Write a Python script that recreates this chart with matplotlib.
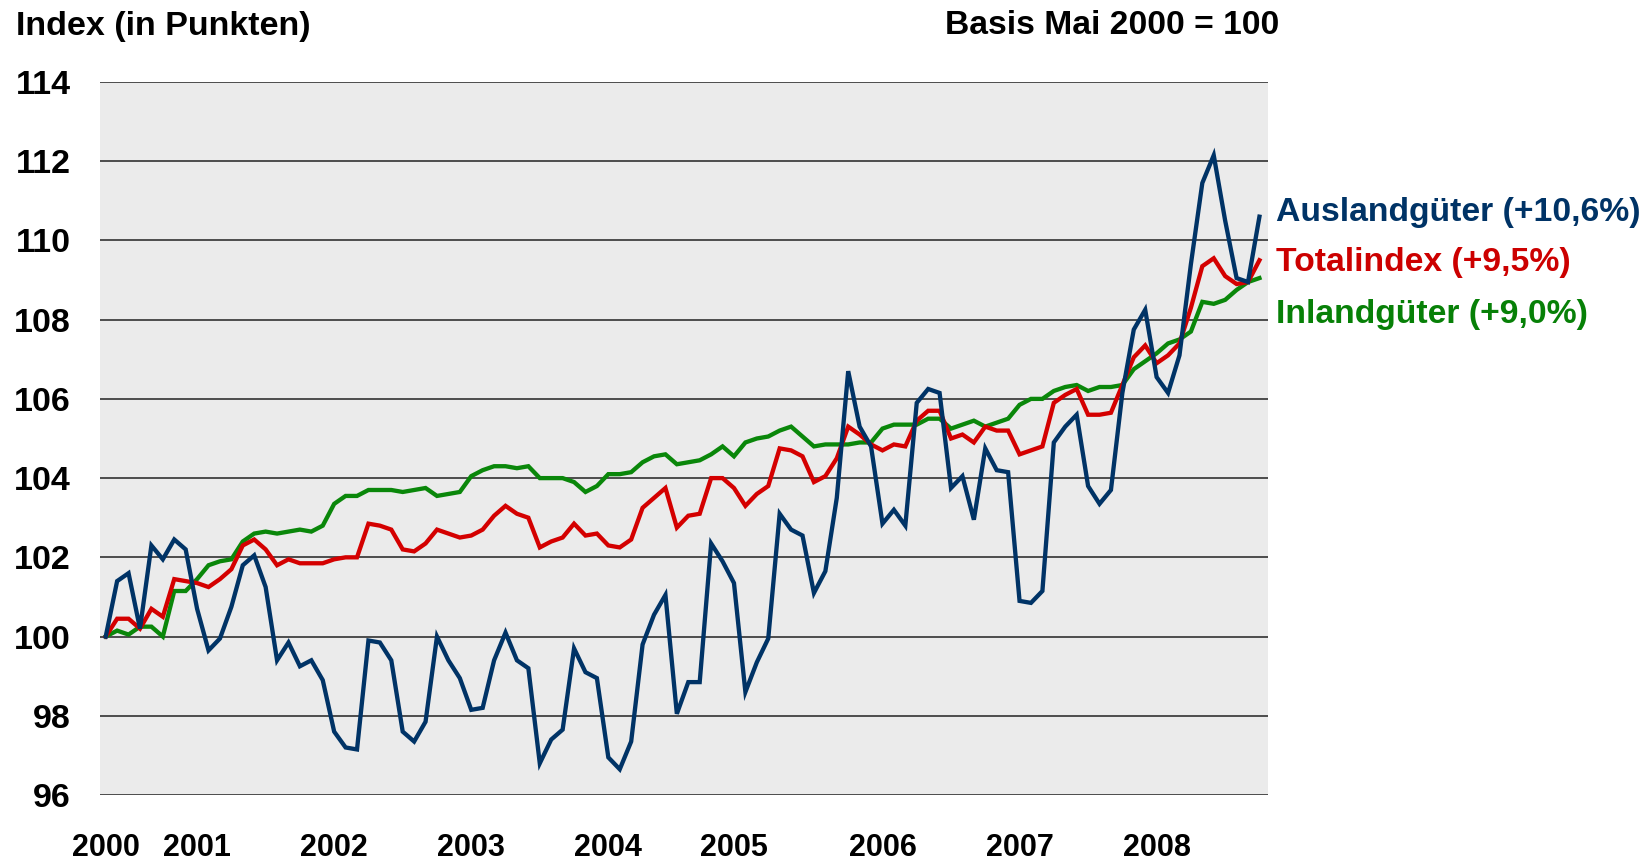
import numpy as np
import matplotlib
matplotlib.use("Agg")
import matplotlib.pyplot as plt

plt.rcParams['font.family'] = ['Liberation Sans', 'DejaVu Sans']
plt.rcParams['font.weight'] = 'bold'

# Monthly index values, May 2000 = 100, through Oct 2008
ausland = [100.0, 101.4, 101.6, 100.2, 102.3, 101.95, 102.45, 102.2, 100.7, 99.65,
           99.95, 100.75, 101.8, 102.05, 101.25, 99.4, 99.85, 99.25, 99.4, 98.9,
           97.6, 97.2, 97.15, 99.9, 99.85, 99.4, 97.6, 97.35, 97.85, 100.0,
           99.4, 98.95, 98.15, 98.2, 99.4, 100.1, 99.4, 99.2, 96.8, 97.4,
           97.65, 99.7, 99.1, 98.95, 96.95, 96.65, 97.35, 99.8, 100.55, 101.05,
           98.05, 98.85, 98.85, 102.35, 101.9, 101.35, 98.6, 99.35, 99.95, 103.1,
           102.7, 102.55, 101.1, 101.65, 103.5, 106.7, 105.3, 104.8, 102.85, 103.2,
           102.8, 105.9, 106.25, 106.15, 103.75, 104.05, 102.95, 104.75, 104.2, 104.15,
           100.9, 100.85, 101.15, 104.9, 105.3, 105.6, 103.8, 103.35, 103.7, 106.15,
           107.75, 108.25, 106.55, 106.15, 107.1, 109.4, 111.45, 112.15, 110.5, 109.05,
           108.95, 110.6]
total = [100.0, 100.45, 100.45, 100.2, 100.7, 100.5, 101.45, 101.4, 101.35, 101.25,
         101.45, 101.7, 102.3, 102.45, 102.2, 101.8, 101.95, 101.85, 101.85, 101.85,
         101.95, 102.0, 102.0, 102.85, 102.8, 102.7, 102.2, 102.15, 102.35, 102.7,
         102.6, 102.5, 102.55, 102.7, 103.05, 103.3, 103.1, 103.0, 102.25, 102.4,
         102.5, 102.85, 102.55, 102.6, 102.3, 102.25, 102.45, 103.25, 103.5, 103.75,
         102.75, 103.05, 103.1, 104.0, 104.0, 103.75, 103.3, 103.6, 103.8, 104.75,
         104.7, 104.55, 103.9, 104.05, 104.5, 105.3, 105.1, 104.85, 104.7, 104.85,
         104.8, 105.45, 105.7, 105.7, 105.0, 105.1, 104.9, 105.3, 105.2, 105.2,
         104.6, 104.7, 104.8, 105.9, 106.1, 106.25, 105.6, 105.6, 105.65, 106.35,
         107.05, 107.35, 106.9, 107.1, 107.4, 108.3, 109.35, 109.55, 109.1, 108.9,
         108.95, 109.5]
inland = [100.0, 100.15, 100.05, 100.25, 100.25, 100.0, 101.15, 101.15, 101.45, 101.8,
          101.9, 101.95, 102.4, 102.6, 102.65, 102.6, 102.65, 102.7, 102.65, 102.8,
          103.35, 103.55, 103.55, 103.7, 103.7, 103.7, 103.65, 103.7, 103.75, 103.55,
          103.6, 103.65, 104.05, 104.2, 104.3, 104.3, 104.25, 104.3, 104.0, 104.0,
          104.0, 103.9, 103.65, 103.8, 104.1, 104.1, 104.15, 104.4, 104.55, 104.6,
          104.35, 104.4, 104.45, 104.6, 104.8, 104.55, 104.9, 105.0, 105.05, 105.2,
          105.3, 105.05, 104.8, 104.85, 104.85, 104.85, 104.9, 104.9, 105.25, 105.35,
          105.35, 105.35, 105.5, 105.5, 105.25, 105.35, 105.45, 105.3, 105.4, 105.5,
          105.85, 106.0, 106.0, 106.2, 106.3, 106.35, 106.2, 106.3, 106.3, 106.35,
          106.75, 106.95, 107.15, 107.4, 107.5, 107.7, 108.45, 108.4, 108.5, 108.75,
          108.95, 109.05]

year_labels = ['2000', '2001', '2002', '2003', '2004', '2005', '2006', '2007', '2008']
year_pos = [0, 8, 20, 32, 44, 55, 68, 80, 92]   # month index (0 = May 2000)
y_ticks = [96, 98, 100, 102, 104, 106, 108, 110, 112, 114]

series_labels = ['Auslandgüter (+10,6%)', 'Totalindex (+9,5%)', 'Inlandgüter (+9,0%)']

c_blue = '#003366'
c_red = '#d40000'
c_green = '#0a870a'

W, H = 1650, 861
fig = plt.figure(figsize=(W / 100, H / 100), dpi=100)
ax = fig.add_axes([100 / W, 1 - 795 / H, (1268 - 100) / W, (795 - 82) / H])
ax.set_facecolor('#ebebeb')

x = np.arange(len(ausland))
ax.plot(x, inland, color=c_green, lw=3.1, zorder=3, solid_joinstyle='miter')
ax.plot(x, total, color=c_red, lw=3.1, zorder=4, solid_joinstyle='miter')
ax.plot(x, ausland, color=c_blue, lw=3.1, zorder=5, solid_joinstyle='miter')

ax.set_xlim(-0.5, 101.75)
ax.set_ylim(96, 114)
ax.set_yticks(y_ticks)
ax.set_yticklabels([str(v) for v in y_ticks], fontsize=24.5, fontweight='bold')
ax.set_xticks(year_pos)
ax.set_xticklabels(year_labels, fontsize=22, fontweight='bold')
ax.tick_params(axis='y', length=0, pad=21)
ax.tick_params(axis='x', length=0, pad=27)
for v in y_ticks:
    ax.axhline(v, color='#222222', lw=1.1, zorder=1)
for s in ax.spines.values():
    s.set_visible(False)

fig.text(16 / W, 1 - 26 / H, 'Index (in Punkten)', fontsize=24.5, fontweight='bold',
         ha='left', va='center')
fig.text(1279 / W, 1 - 26 / H, 'Basis Mai 2000 = 100', fontsize=24.2, fontweight='bold',
         ha='right', va='center')

for lab, col, yp in zip(series_labels, [c_blue, '#cc0000', '#078007'], [213, 262, 314]):
    fig.text(1276 / W, 1 - yp / H, lab, fontsize=24.3, fontweight='bold', color=col,
             ha='left', va='center')

fig.savefig('out.png', dpi=100, facecolor='white')
